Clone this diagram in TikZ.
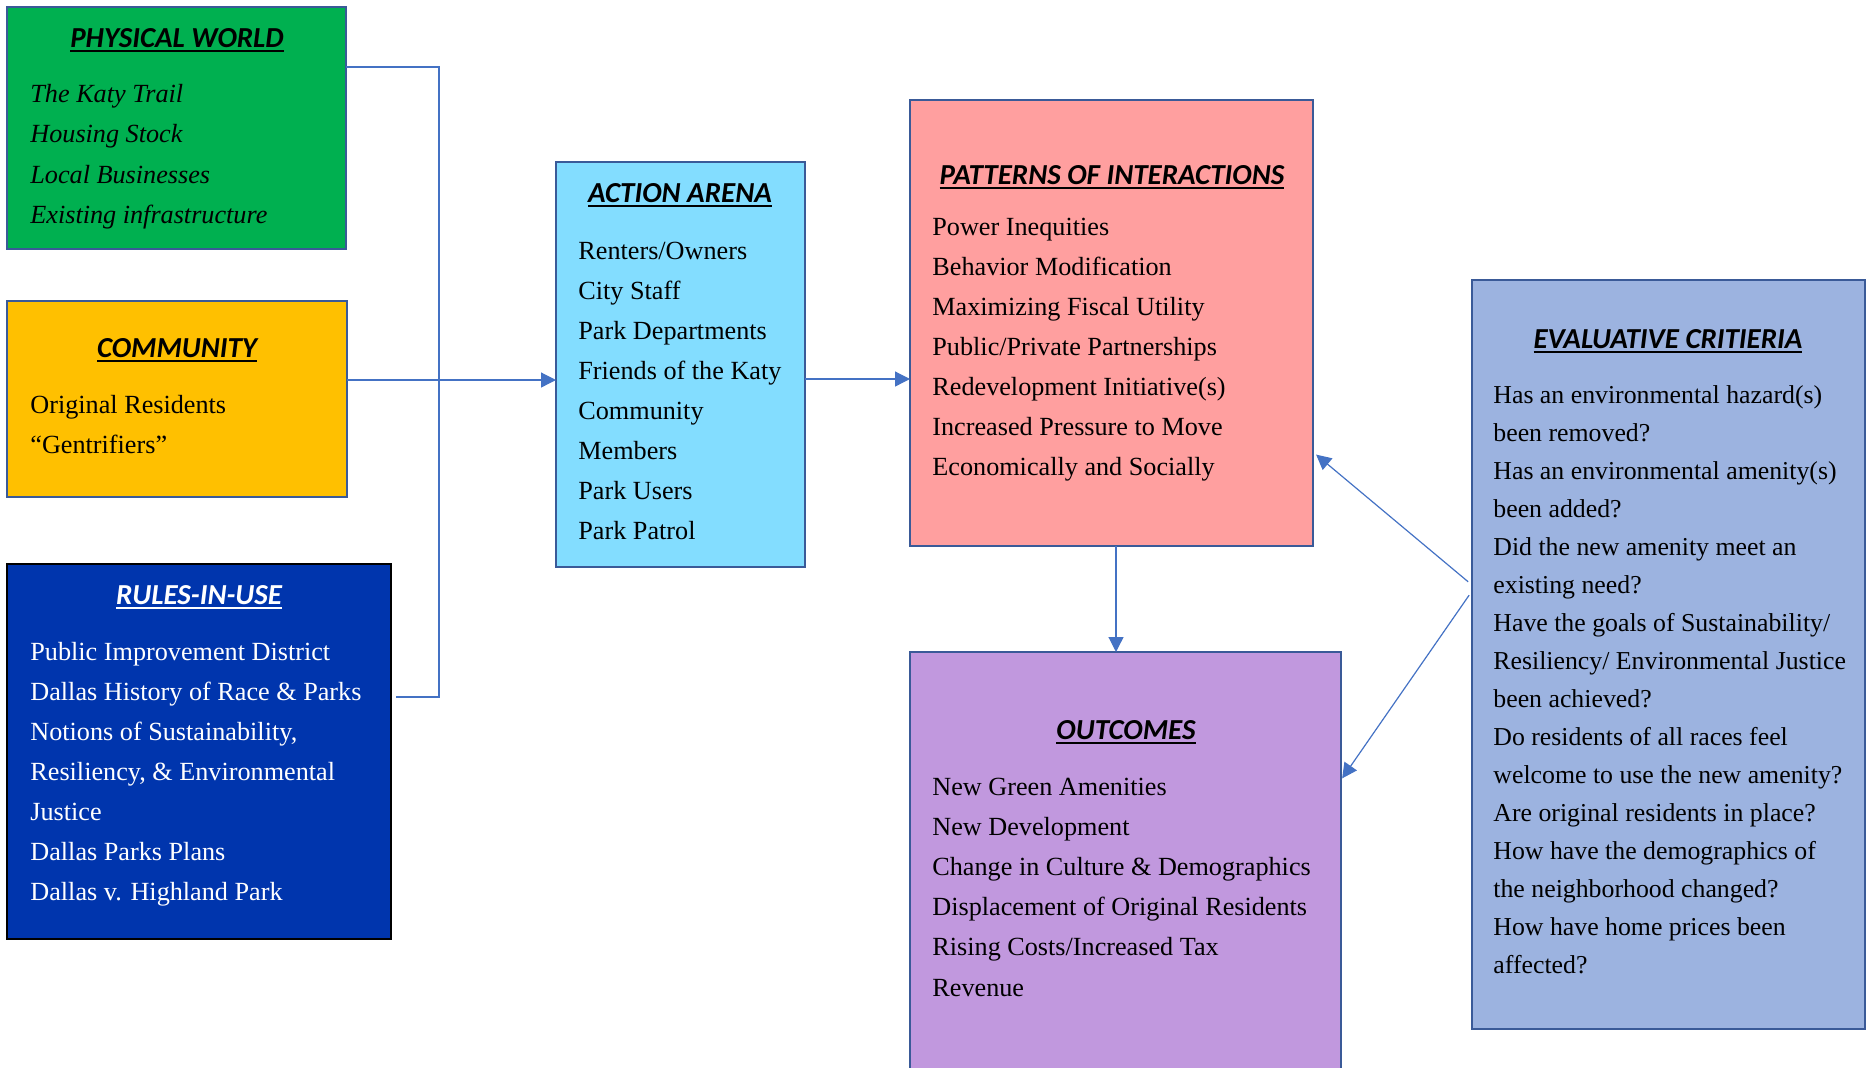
\documentclass[tikz,border=0pt]{standalone}
\usepackage{fontspec}
\setmainfont{Liberation Serif}
\newfontfamily\headfont{Carlito}
\usetikzlibrary{arrows.meta}

\definecolor{physgreen}{HTML}{00B050}
\definecolor{commyellow}{HTML}{FFC000}
\definecolor{rulesblue}{HTML}{0035AD}
\definecolor{arenacyan}{HTML}{83DDFF}
\definecolor{pattpink}{HTML}{FF9F9F}
\definecolor{outcpurple}{HTML}{C198DE}
\definecolor{evalblue}{HTML}{9CB3E0}
\definecolor{boxline}{HTML}{3A5A98}
\definecolor{linkblue}{HTML}{4472C4}

% underlined heading text
\newcommand{\ulined}[1]{\setbox0=\hbox{#1}\copy0\llap{\rule[-2.4pt]{\wd0}{0.9pt}}}

\tikzset{
	box/.style={draw=boxline, line width=1.2pt, inner sep=0pt, outer sep=0pt},
	heading/.style={anchor=base, inner sep=0pt, font=\headfont\bfseries\itshape\fontsize{14.5}{17}\selectfont},
	item/.style={anchor=base west, inner sep=0pt, font=\fontsize{13.1}{16}\selectfont},
	link/.style={draw=linkblue, line width=0.6pt},
	arrow/.style={link, -{Triangle[length=7.5pt,width=7.5pt]}}
}

\begin{document}
\begin{tikzpicture}[x=0.5pt,y=-0.5pt]
	\useasboundingbox (0,0) rectangle (1866,1067);
	\clip (0,0) rectangle (1866,1067);

	%boxes
	\node[box, fill=physgreen, minimum width=169.5pt, minimum height=121pt] (phys) at (176.5,128) {};
	\node[box, fill=commyellow, minimum width=170pt, minimum height=98pt] (comm) at (177,399) {};
	\node[box, fill=rulesblue, draw=black, minimum width=192pt, minimum height=187.5pt] (rules) at (199,751.5) {};
	\node[box, fill=arenacyan, minimum width=124.5pt, minimum height=202.5pt] (arena) at (680.5,364.5) {};
	\node[box, fill=pattpink, minimum width=201.5pt, minimum height=223pt] (patt) at (1111.5,323) {};
	\node[box, fill=outcpurple, minimum width=215.5pt, minimum height=219pt] (outc) at (1125.5,871) {};
	\node[box, fill=evalblue, minimum width=196.5pt, minimum height=374.5pt] (eval) at (1668.5,654.5) {};

	%headings
	\node[heading] (physT) at (177,47) {\ulined{PHYSICAL WORLD}};
	\node[heading] (commT) at (177,357) {\ulined{COMMUNITY}};
	\node[heading, text=white] (rulesT) at (199,604) {\ulined{RULES-IN-USE}};
	\node[heading] (arenaT) at (680,202) {\ulined{ACTION ARENA}};
	\node[heading] (pattT) at (1112,184) {\ulined{PATTERNS OF INTERACTIONS}};
	\node[heading] (outcT) at (1126,739) {\ulined{OUTCOMES}};
	\node[heading] (evalT) at (1668,348) {\ulined{EVALUATIVE CRITIERIA}};

	%lists
	\foreach [count=\i] \txt in {The Katy Trail, Housing Stock, Local Businesses, Existing infrastructure}
		\node[item, font=\itshape\fontsize{13.1}{16}\selectfont] (phys-\i) at (30,{102+40.5*(\i-1)}) {\txt};
	\foreach [count=\i] \txt in {Original Residents, “Gentrifiers”}
		\node[item] (comm-\i) at (30,{413+40*(\i-1)}) {\txt};
	\foreach [count=\i] \txt in {Public Improvement District, Dallas History of Race \& Parks, {Notions of Sustainability,}, {Resiliency, \& Environmental}, Justice, Dallas Parks Plans, Dallas v. Highland Park}
		\node[item, text=white] (rules-\i) at (30,{660+40*(\i-1)}) {\txt};
	\foreach [count=\i] \txt in {Renters/Owners, City Staff, Park Departments, Friends of the Katy, Community, Members, Park Users, Park Patrol}
		\node[item] (arena-\i) at (578,{259+40*(\i-1)}) {\txt};
	\foreach [count=\i] \txt in {Power Inequities, Behavior Modification, Maximizing Fiscal Utility, Public/Private Partnerships, Redevelopment Initiative(s), Increased Pressure to Move, Economically and Socially}
		\node[item] (patt-\i) at (932,{235+40*(\i-1)}) {\txt};
	\foreach [count=\i] \txt in {New Green Amenities, New Development, Change in Culture \& Demographics, Displacement of Original Residents, Rising Costs/Increased Tax, Revenue}
		\node[item] (outc-\i) at (932,{795+40.2*(\i-1)}) {\txt};
	\foreach [count=\i] \txt in {Has an environmental hazard(s), been removed?, Has an environmental amenity(s), been added?, Did the new amenity meet an, existing need?, Have the goals of Sustainability/, Resiliency/ Environmental Justice, been achieved?, Do residents of all races feel, welcome to use the new amenity?, Are original residents in place?, How have the demographics of, the neighborhood changed?, How have home prices been, affected?}
		\node[item, font=\fontsize{12.9}{16}\selectfont] (eval-\i) at (1493,{403+38*(\i-1)}) {\txt};

	%connectors
	\coordinate (bustop) at (439,67);
	\coordinate (busbot) at (439,697);
	\coordinate (inrow) at (0,380);
	\coordinate (outrow) at (0,379);
	\coordinate (downcol) at (1116,0);
	\coordinate (forkA) at (0,585);
	\coordinate (forkB) at (0,591);
	\coordinate (hitP) at (0,452);
	\coordinate (hitO) at (0,780);

	\draw[link, shorten >=2.5pt] (phys.east |- bustop) -- (bustop) -- (busbot) -- (rules.east |- busbot);
	\draw[arrow] (comm.east |- inrow) -- (arena.west |- inrow);
	\draw[arrow] (arena.east |- outrow) -- (patt.west |- outrow);
	\draw[arrow] (patt.south -| downcol) -- (outc.north -| downcol);
	\draw[arrow, shorten <=2.5pt, shorten >=2pt] (eval.west |- forkA) -- (patt.east |- hitP);
	\draw[arrow, shorten <=2.5pt, shorten >=1pt] (eval.west |- forkB) -- (outc.east |- hitO);
\end{tikzpicture}
\end{document}
